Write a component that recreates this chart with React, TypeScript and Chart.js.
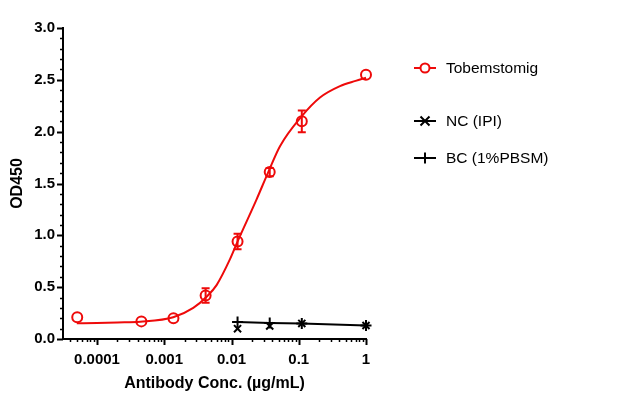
import React, { useEffect, useRef } from 'react';
import { Chart, registerables } from 'chart.js';

Chart.register(...registerables);

// ---- Data ----
const concentrations = [0.0000508, 0.000457, 0.00137, 0.00412, 0.0123, 0.037, 0.111, 1];
const tobemstomigOD = [0.21, 0.17, 0.2, 0.42, 0.94, 1.61, 2.1, 2.55];
const tobemstomigErr = [0, 0, 0, 0.07, 0.075, 0.04, 0.105, 0];

const fitConc = [5e-5, 1e-4, 2e-4, 4.4e-4, 1.36e-3, 2.7e-3, 4.3e-3, 6e-3, 9.5e-3, 0.0122, 0.0237, 0.0352, 0.0526, 0.111, 0.207, 0.41, 0.7, 1];
const fitOD = [0.151, 0.155, 0.16, 0.167, 0.21, 0.3, 0.41, 0.52, 0.77, 0.935, 1.35, 1.61, 1.86, 2.15, 2.33, 2.44, 2.49, 2.52];

const controlConc = [0.0123, 0.037, 0.111, 1];
const ncOD = [0.1, 0.125, 0.15, 0.13];
const bcOD = [0.165, 0.155, 0.15, 0.13];

const xMajorTicks = [0.0001, 0.001, 0.01, 0.1, 1];
const xTickLabels = ['0.0001', '0.001', '0.01', '0.1', '1'];
const yTickLabels = ['0.0', '0.5', '1.0', '1.5', '2.0', '2.5', '3.0'];

const legendLabels = ['Tobemstomig', 'NC (IPI)', 'BC (1%PBSM)'];

const RED = '#ee0a0a';
const FONT = "'Liberation Sans', Arial, sans-serif";

const xMin = 3.12e-5;

function drawMarker(ctx: CanvasRenderingContext2D, style: string, x: number, y: number, color: string) {
  ctx.save();
  ctx.strokeStyle = color;
  ctx.lineWidth = 2;
  ctx.beginPath();
  if (style === 'circle') {
    ctx.fillStyle = '#fff';
    ctx.arc(x, y, 4.5, 0, Math.PI * 2);
    ctx.fill();
    ctx.stroke();
  } else if (style === 'crossRot') {
    const r = 4.5;
    ctx.moveTo(x - r, y - r); ctx.lineTo(x + r, y + r);
    ctx.moveTo(x - r, y + r); ctx.lineTo(x + r, y - r);
    ctx.stroke();
  } else {
    const r = 5.5;
    ctx.moveTo(x, y - r); ctx.lineTo(x, y + r);
    ctx.stroke();
  }
  ctx.restore();
}

const customPlugin = {
  id: 'customDecor',
  afterDatasetsDraw(chart: any) {
    const { ctx, scales } = chart;
    const x = scales.x, y = scales.y;
    ctx.save();
    ctx.strokeStyle = RED;
    ctx.lineWidth = 2;
    concentrations.forEach((c, i) => {
      if (!tobemstomigErr[i]) return;
      const px = x.getPixelForValue(c);
      const pt = y.getPixelForValue(tobemstomigOD[i] + tobemstomigErr[i]);
      const pb = y.getPixelForValue(tobemstomigOD[i] - tobemstomigErr[i]);
      ctx.beginPath();
      ctx.moveTo(px, pt); ctx.lineTo(px, pb);
      ctx.moveTo(px - 4, pt); ctx.lineTo(px + 4, pt);
      ctx.moveTo(px - 4, pb); ctx.lineTo(px + 4, pb);
      ctx.stroke();
    });
    ctx.restore();
  },
  afterDraw(chart: any) {
    const { ctx, scales, chartArea } = chart;
    const x = scales.x, y = scales.y;
    ctx.save();
    ctx.strokeStyle = '#000';
    // y ticks
    for (let i = 0; i <= 30; i++) {
      const v = i / 10;
      const py = Math.round(y.getPixelForValue(v)) + 0.5;
      const major = i % 5 === 0;
      ctx.lineWidth = major ? 2 : 1.5;
      ctx.beginPath();
      ctx.moveTo(chartArea.left - (major ? 6 : 3), py);
      ctx.lineTo(chartArea.left, py);
      ctx.stroke();
    }
    // x ticks
    for (let e = -5; e <= 0; e++) {
      for (let m = 1; m <= 9; m++) {
        const v = m * Math.pow(10, e);
        if (v < xMin || v > 1.0001) continue;
        const px = Math.round(x.getPixelForValue(v)) + 0.5;
        const major = m === 1;
        ctx.lineWidth = major ? 2 : 1.5;
        ctx.beginPath();
        ctx.moveTo(px, chartArea.bottom);
        ctx.lineTo(px, chartArea.bottom + (major ? 6 : 3));
        ctx.stroke();
      }
    }
    // legend
    const rows = [68, 121, 158];
    const styles = ['circle', 'crossRot', 'cross'];
    const colors = [RED, '#000', '#000'];
    rows.forEach((ry, i) => {
      ctx.strokeStyle = colors[i];
      ctx.lineWidth = 2;
      ctx.beginPath();
      ctx.moveTo(414, ry); ctx.lineTo(436, ry);
      ctx.stroke();
      drawMarker(ctx, styles[i], 425, ry, colors[i]);
      ctx.fillStyle = '#000';
      ctx.font = `15.5px ${FONT}`;
      ctx.textBaseline = 'middle';
      ctx.textAlign = 'left';
      ctx.fillText(legendLabels[i], 446, ry + 1);
    });
    ctx.restore();
  },
};

export default function App() {
  const ref = useRef<HTMLCanvasElement>(null);
  useEffect(() => {
    document.body.style.margin = '0';
    const canvas = ref.current;
    if (!canvas) return;
    const chart = new Chart(canvas, {
      type: 'scatter',
      data: {
        datasets: [
          {
            label: 'fit',
            data: fitConc.map((c, i) => ({ x: c, y: fitOD[i] })),
            showLine: true,
            borderColor: RED,
            borderWidth: 2,
            pointRadius: 0,
            cubicInterpolationMode: 'monotone',
            clip: false,
          },
          {
            label: legendLabels[0],
            data: concentrations.map((c, i) => ({ x: c, y: tobemstomigOD[i] })),
            showLine: false,
            borderColor: RED,
            backgroundColor: 'rgba(0,0,0,0)',
            pointStyle: 'circle',
            pointRadius: 5,
            pointBorderWidth: 2,
            clip: false,
          },
          {
            label: legendLabels[2],
            data: controlConc.map((c, i) => ({ x: c, y: bcOD[i] })),
            showLine: true,
            borderColor: '#000',
            backgroundColor: '#000',
            borderWidth: 2,
            pointStyle: 'cross',
            pointRadius: 5.5,
            pointBorderWidth: 2,
            clip: false,
          },
          {
            label: legendLabels[1],
            data: controlConc.map((c, i) => ({ x: c, y: ncOD[i] })),
            showLine: false,
            borderColor: '#000',
            backgroundColor: '#000',
            pointStyle: 'crossRot',
            pointRadius: 5,
            pointBorderWidth: 2,
            clip: false,
          },
        ],
      },
      options: {
        responsive: false,
        animation: false,
        devicePixelRatio: 1,
        layout: { padding: { top: 28, right: 265, left: 0, bottom: 0 } },
        plugins: { legend: { display: false }, tooltip: { enabled: false } },
        scales: {
          x: {
            type: 'logarithmic',
            min: xMin,
            max: 1,
            afterBuildTicks: (scale: any) => {
              scale.ticks = xMajorTicks.map((v) => ({ value: v }));
            },
            afterFit: (scale: any) => {
              scale.height = 58;
            },
            grid: { display: false, drawTicks: false },
            border: { display: true, color: '#000', width: 2 },
            ticks: {
              autoSkip: false,
              maxRotation: 0,
              padding: 12,
              color: '#000',
              font: { family: FONT, size: 15, weight: 'bold' },
              callback: (_v: any, i: number) => xTickLabels[i],
            },
            title: {
              display: true,
              text: 'Antibody Conc. (µg/mL)',
              color: '#000',
              font: { family: FONT, size: 16, weight: 'bold' },
              padding: { top: 0, bottom: 4 },
            },
          },
          y: {
            min: 0,
            max: 3,
            afterBuildTicks: (scale: any) => {
              scale.ticks = yTickLabels.map((_, i) => ({ value: i * 0.5 }));
            },
            afterFit: (scale: any) => {
              scale.width = 63;
            },
            grid: { display: false, drawTicks: false },
            border: { display: true, color: '#000', width: 2 },
            ticks: {
              padding: 8,
              color: '#000',
              font: { family: FONT, size: 15, weight: 'bold' },
              callback: (_v: any, i: number) => yTickLabels[i],
            },
            title: {
              display: true,
              text: 'OD450',
              color: '#000',
              font: { family: FONT, size: 16, weight: 'bold' },
              padding: { top: 8, bottom: 0 },
            },
          },
        },
      },
      plugins: [customPlugin],
    } as any);
    return () => chart.destroy();
  }, []);
  return (
    <div style={{ width: 631, height: 397 }}>
      <canvas ref={ref} width={631} height={397} />
    </div>
  );
}
